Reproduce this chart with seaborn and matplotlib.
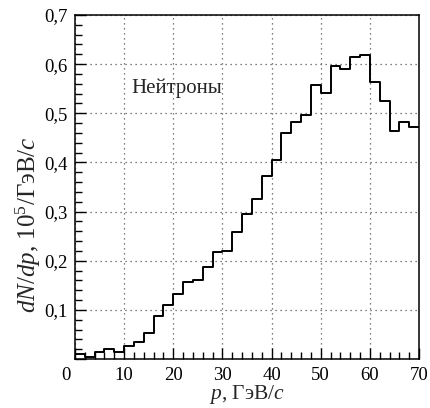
import numpy as np
import pandas as pd
import seaborn as sns
import matplotlib.pyplot as plt
from matplotlib.ticker import MultipleLocator
from matplotlib.transforms import ScaledTranslation

# neutron momentum spectrum, 2 GeV/c bins from 0 to 70
bin_left = np.arange(0, 70, 2)
counts = [0.010, 0.005, 0.015, 0.020, 0.014, 0.026, 0.035, 0.052, 0.088, 0.110,
          0.132, 0.156, 0.161, 0.188, 0.217, 0.219, 0.259, 0.296, 0.326, 0.373,
          0.405, 0.460, 0.483, 0.496, 0.557, 0.542, 0.597, 0.591, 0.614, 0.618,
          0.563, 0.524, 0.463, 0.483, 0.472]
x_ticks = [0, 10, 20, 30, 40, 50, 60, 70]
x_tick_labels = ['0', '10', '20', '30', '40', '50', '60', '70']
y_ticks = [0, 0.1, 0.2, 0.3, 0.4, 0.5, 0.6, 0.7]
y_tick_labels = ['', '0,1', '0,2', '0,3', '0,4', '0,5', '0,6', '0,7']

df = pd.DataFrame({'p': bin_left + 1, 'w': counts})

sns.set_style('ticks')
plt.rcParams['font.family'] = ['Liberation Serif', 'DejaVu Serif']
plt.rcParams['mathtext.fontset'] = 'custom'
plt.rcParams['mathtext.rm'] = 'Liberation Serif'
plt.rcParams['mathtext.it'] = 'Liberation Serif:italic'

fig = plt.figure(figsize=(4.3, 4.08), dpi=100)
ax = fig.add_axes([75 / 430, 49 / 408, 344 / 430, 344 / 408])

sns.histplot(data=df, x='p', weights='w', binwidth=2, binrange=(0, 70),
             element='step', fill=False, color='black', linewidth=1.4, ax=ax)

ax.set_xlim(0, 70)
ax.set_ylim(0, 0.7)
ax.set_xticks(x_ticks)
ax.set_xticklabels(x_tick_labels)
ax.set_yticks(y_ticks)
ax.set_yticklabels(y_tick_labels)
ax.xaxis.set_minor_locator(MultipleLocator(2))
ax.yaxis.set_minor_locator(MultipleLocator(0.02))
ax.tick_params(which='both', direction='in', colors='black', labelsize=13.5,
               top=False, right=False, width=1.0)
ax.tick_params(which='major', length=8, pad=5.5)
ax.tick_params(which='minor', length=5)

ax.grid(which='major', linestyle=(0, (1, 3)), color='#555555', linewidth=0.9)
for s in ax.spines.values():
    s.set_linewidth(1.1)
    s.set_color('black')

# the corner zero sits a bit left of the axis origin
xl0 = ax.get_xticklabels()[0]
xl0.set_transform(xl0.get_transform() + ScaledTranslation(-0.095, 0, fig.dpi_scale_trans))

ax.set_xlabel(r'$p$, ГэВ/$c$', fontsize=15.5)
ax.xaxis.set_label_coords(0.5, -0.07)
ax.set_ylabel(r'$dN/dp$, $10^5$/ГэВ/$c$', fontsize=18)
ax.yaxis.set_label_coords(-0.092, 0.392)

ax.text(11.5, 0.542, 'Нейтроны', fontsize=15)

fig.savefig('out.png', dpi=100)
